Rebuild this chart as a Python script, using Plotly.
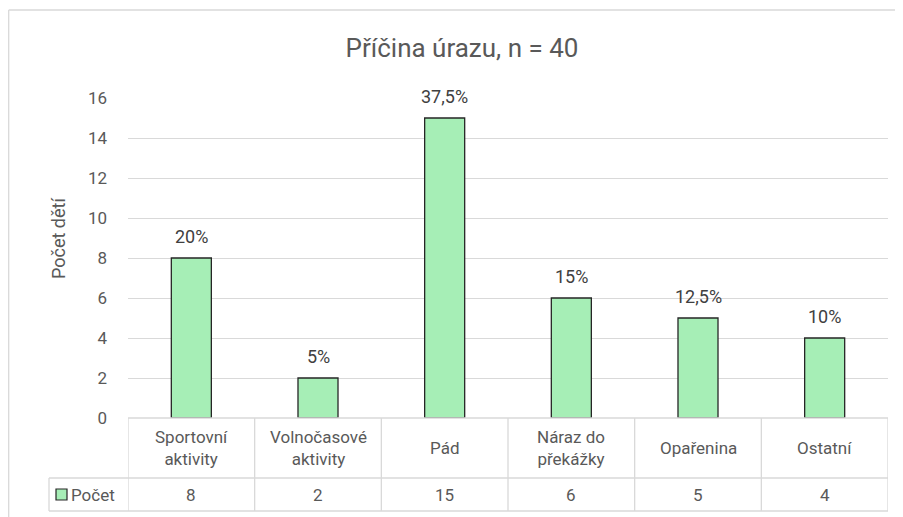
import plotly.graph_objects as go

categories = ["Sportovní<br>aktivity", "Volnočasové<br>aktivity", "Pád", "Náraz do<br>překážky", "Opařenina", "Ostatní"]
values = [8, 2, 15, 6, 5, 4]
pct_labels = ["20%", "5%", "37,5%", "15%", "12,5%", "10%"]
series_name = "Počet"
y_ticks = [0, 2, 4, 6, 8, 10, 12, 14, 16]
title = "Příčina úrazu, n = 40"
y_title = "Počet dětí"

OFF = 8  # page body margin
W, H = 903 - OFF, 517 - OFF
# plot area in screen pixels
SPL, SPR, SPT, SPB = 128, 888, 98, 418
PL, PR, PT, PB = SPL - OFF, SPR - OFF, SPT - OFF, SPB - OFF
FONT = "Roboto, sans-serif"
TXT = "#595959"
GRID = "#d9d9d9"
BAR = "#a6eeb6"

def px_x(s):
    p = s - OFF
    return (p - PL) / (PR - PL)

def px_y(s):
    p = s - OFF
    return (PB - p) / (PB - PT)

n = len(categories)
xs = list(range(n))

fig = go.Figure()
fig.add_trace(go.Bar(
    x=xs, y=values, width=0.316,
    marker=dict(color=BAR, line=dict(color="#262626", width=1.3)),
    showlegend=False, hoverinfo="skip",
))

shapes = []
line = dict(color=GRID, width=1.3)
# outer chart frame
shapes.append(dict(type="line", xref="paper", yref="paper", x0=px_x(8.7), x1=px_x(920), y0=px_y(10), y1=px_y(10), line=line))
shapes.append(dict(type="line", xref="paper", yref="paper", x0=px_x(8.7), x1=px_x(8.7), y0=px_y(10), y1=px_y(540), line=line))

# data table horizontal lines
y_hdr_top, y_hdr_bot, y_tab_bot = 418, 478, 511
shapes.append(dict(type="line", xref="paper", yref="paper", x0=px_x(SPL), x1=px_x(SPR), y0=px_y(y_hdr_top), y1=px_y(y_hdr_top), line=line))
for yy in (y_hdr_bot, y_tab_bot):
    shapes.append(dict(type="line", xref="paper", yref="paper", x0=px_x(49), x1=px_x(SPR), y0=px_y(yy), y1=px_y(yy), line=line))
# vertical lines
shapes.append(dict(type="line", xref="paper", yref="paper", x0=px_x(49), x1=px_x(49), y0=px_y(y_hdr_bot), y1=px_y(y_tab_bot), line=line))
for i in range(n + 1):
    shapes.append(dict(type="line", xref="x", yref="paper", x0=i - 0.5, x1=i - 0.5, y0=px_y(y_hdr_top), y1=px_y(y_tab_bot), line=line))
# legend key
shapes.append(dict(type="rect", xref="paper", yref="paper", x0=px_x(56), x1=px_x(67), y0=px_y(489), y1=px_y(500),
                   fillcolor=BAR, line=dict(color="#262626", width=1.2)))

annotations = []
for i, (c, v, p) in enumerate(zip(categories, values, pct_labels)):
    annotations.append(dict(x=i, y=v, xref="x", yref="y", text=p, showarrow=False, yanchor="bottom", yshift=9,
                            font=dict(family=FONT, size=18, color="#404040")))
    annotations.append(dict(x=i, y=px_y((y_hdr_top + y_hdr_bot) / 2), xref="x", yref="paper", text=c, showarrow=False,
                            font=dict(family=FONT, size=17, color=TXT), align="center", yanchor="middle"))
    annotations.append(dict(x=i, y=px_y((y_hdr_bot + y_tab_bot) / 2), xref="x", yref="paper", text=str(v), showarrow=False,
                            font=dict(family=FONT, size=17, color=TXT), yanchor="middle"))
annotations.append(dict(x=px_x(69), y=px_y((y_hdr_bot + y_tab_bot) / 2), xref="paper", yref="paper", text=series_name,
                        showarrow=False, xanchor="left", yanchor="middle", font=dict(family=FONT, size=17, color=TXT)))
annotations.append(dict(x=px_x(58), y=px_y(239), xref="paper", yref="paper", text=y_title, textangle=-90, showarrow=False,
                        xanchor="center", yanchor="middle", font=dict(family=FONT, size=18, color=TXT)))

fig.update_layout(
    width=W, height=H, autosize=False,
    margin=dict(l=PL, r=W - PR, t=PT, b=H - PB, pad=0),
    paper_bgcolor="white", plot_bgcolor="white",
    title=dict(text=title, x=(462 - OFF) / W, xref="container", xanchor="center",
               y=1 - (48 - OFF) / H, yref="container", yanchor="middle",
               font=dict(family=FONT, size=26, color=TXT)),
    xaxis=dict(range=[-0.5, n - 0.5], showticklabels=False, showgrid=False, zeroline=False, showline=False,
               ticks="", fixedrange=True),
    yaxis=dict(range=[0, 16], tickvals=y_ticks, showgrid=True, gridcolor=GRID, gridwidth=1.3, zeroline=False,
               showline=False, ticks="", ticklabelstandoff=20,
               tickfont=dict(family=FONT, size=17, color=TXT)),
    shapes=shapes, annotations=annotations,
    font=dict(family=FONT, color=TXT),
)

fig.write_html("out.html")
